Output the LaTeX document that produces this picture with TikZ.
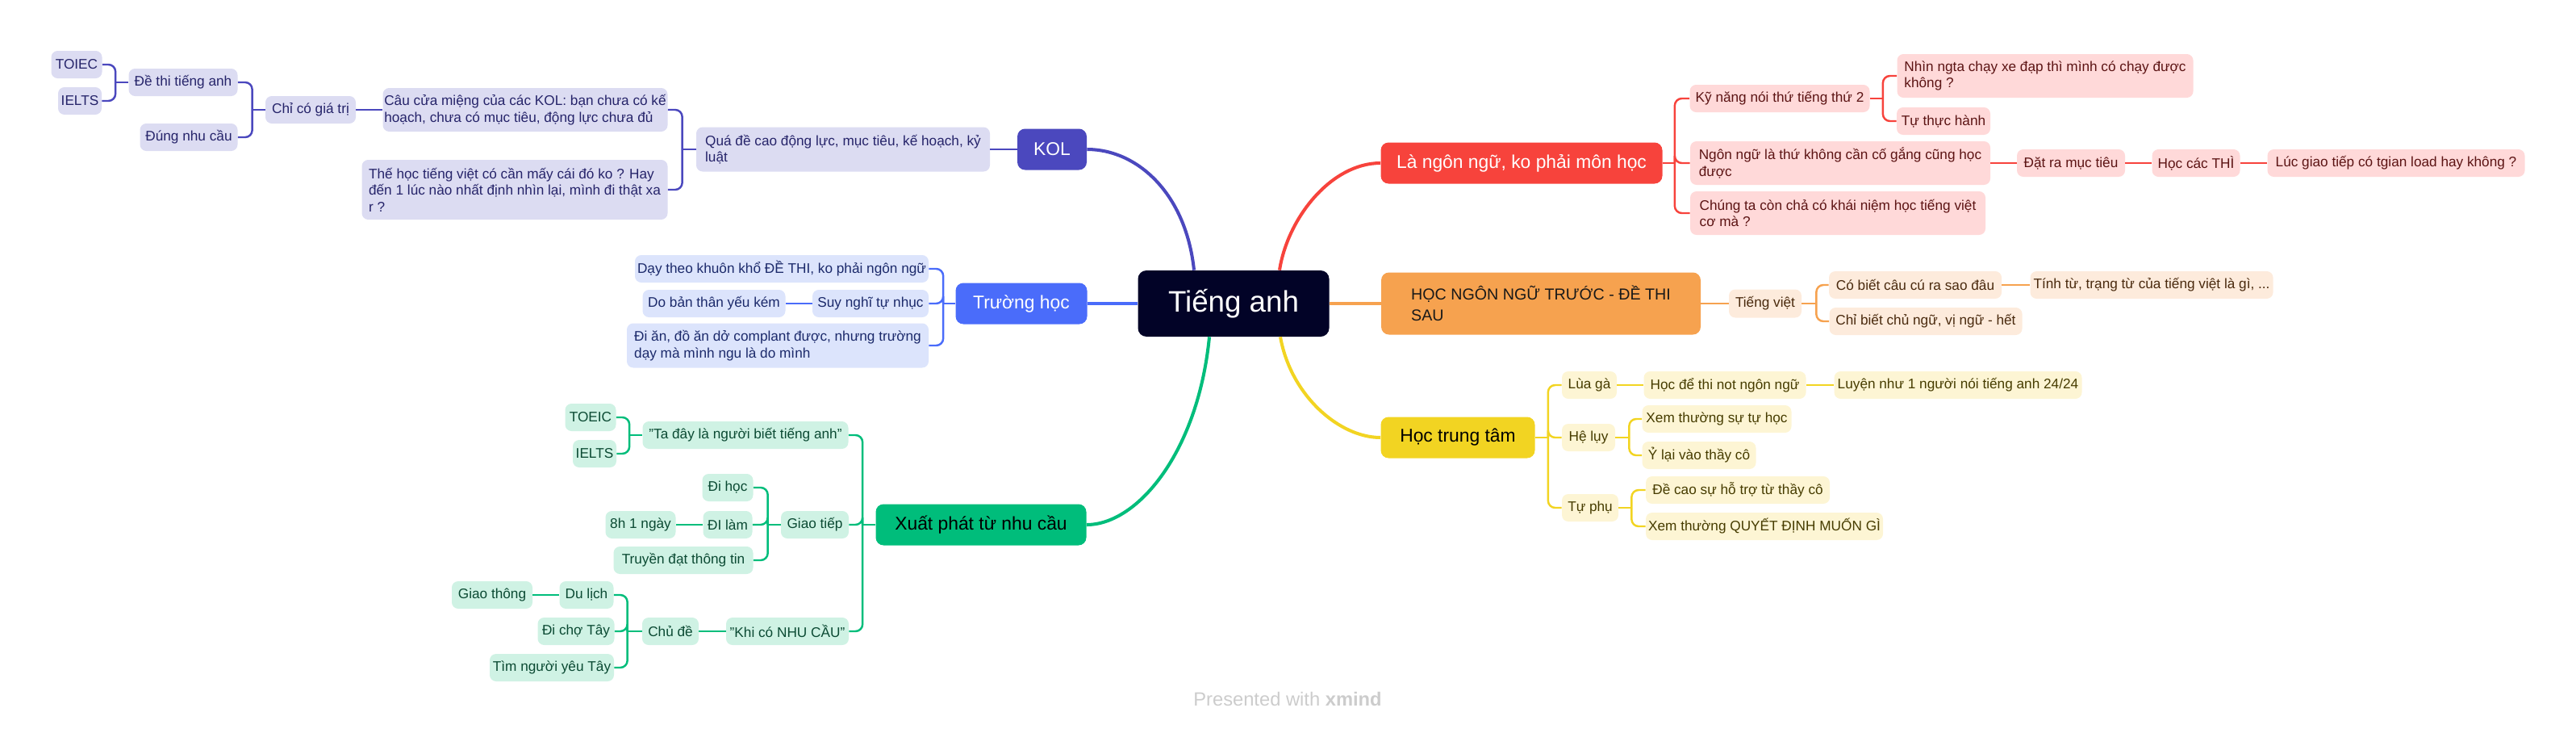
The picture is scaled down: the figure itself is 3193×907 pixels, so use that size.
\documentclass[tikz,border=0pt]{standalone}
\usepackage{fontspec}
\setmainfont{Liberation Sans}
\usepackage{tikz}
\usetikzlibrary{positioning}
\usepackage{xcolor}

\definecolor{rootc}{HTML}{020327}
\definecolor{kolc}{HTML}{4B48BE}
\definecolor{kolf}{HTML}{DCDCF2}
\definecolor{kolt}{HTML}{26246A}
\definecolor{schc}{HTML}{4A6CFA}
\definecolor{schf}{HTML}{DCE4FC}
\definecolor{scht}{HTML}{1C2A6B}
\definecolor{grnc}{HTML}{00BD7B}
\definecolor{grnf}{HTML}{CFF2E4}
\definecolor{grnt}{HTML}{0B4A33}
\definecolor{redc}{HTML}{F7433C}
\definecolor{redf}{HTML}{FFD9D9}
\definecolor{redt}{HTML}{5C1414}
\definecolor{orgc}{HTML}{F6A24F}
\definecolor{orgf}{HTML}{FDEBDC}
\definecolor{orgt}{HTML}{4A2A0E}
\definecolor{ylwc}{HTML}{F2D422}
\definecolor{ylwf}{HTML}{FDF5D4}
\definecolor{ylwt}{HTML}{463C00}
\definecolor{footc}{HTML}{CCCCCC}

\tikzset{
  nodesize/.style 2 args={minimum width=#1*0.02cm,minimum height=#2*0.02cm},
  leaf/.style={rounded corners=4.5pt,inner sep=0pt,align=left,
    font=\fontsize{9.8}{11.6}\selectfont},
  topic/.style={rounded corners=5.5pt,inner sep=0pt,align=left,
    font=\fontsize{13}{15.6}\selectfont},
  twig/.style={line width=1.4pt,rounded corners=5pt},
  bough/.style={line width=2.3pt},
  kolleaf/.style={leaf,fill=kolf,text=kolt},
  schleaf/.style={leaf,fill=schf,text=scht},
  grnleaf/.style={leaf,fill=grnf,text=grnt},
  redleaf/.style={leaf,fill=redf,text=redt},
  orgleaf/.style={leaf,fill=orgf,text=orgt},
  ylwleaf/.style={leaf,fill=ylwf,text=ylwt}
}

\begin{document}
\begin{tikzpicture}[x=0.02cm,y=-0.02cm]
\useasboundingbox (0,0) rectangle (3193,907);

\path (1529,376) node [fill=rootc,text=white,rounded corners=6pt,
  nodesize={237}{82},font=\fontsize{20.9}{25}\selectfont] (root) {Tiếng anh};

% KOL
\path
  (1304,185) node [topic,fill=kolc,text=white,nodesize={86}{51}] (kol) {KOL}
  (1045,185) node [kolleaf,nodesize={364}{55}] (qua)
    {Quá đề cao động lực, mục tiêu, kế hoạch, kỷ\\luật}
  (651,136) node [kolleaf,nodesize={353}{54}] (caucua)
    {Câu cửa miệng của các KOL: bạn chưa có kế\\hoạch, chưa có mục tiêu, động lực chưa đủ}
  (638,235) node [kolleaf,nodesize={379}{74}] (thehoc)
    {Thế học tiếng việt có cần mấy cái đó ko ? Hay\\đến 1 lúc nào nhất định nhìn lại, mình đi thật xa\\r ?}
  (385,136) node [kolleaf,nodesize={112}{34}] (chico) {Chỉ có giá trị}
  (227,102) node [kolleaf,nodesize={135}{34}] (dethi) {Đề thi tiếng anh}
  (234,170) node [kolleaf,nodesize={121}{34}] (dungnc) {Đúng nhu cầu}
  (95,80) node [kolleaf,nodesize={63}{34}] (toiecA) {TOIEC}
  (99,125) node [kolleaf,nodesize={54}{34}] (ieltsA) {IELTS};
\draw [bough,draw=kolc] (kol.east) .. controls (1410,185) and (1470,240)
  .. ([xshift=-0.98cm]root.north);
\draw [twig,draw=kolc] (kol.west) -- (qua.east);
\draw [twig,draw=kolc] (qua.west) -- ++(-17,0) coordinate (quaB);
\draw [twig,draw=kolc] (quaB) |- (caucua.east);
\draw [twig,draw=kolc] (quaB) |- (thehoc.east);
\draw [twig,draw=kolc] (caucua.west) -- (chico.east);
\draw [twig,draw=kolc] (chico.west) -- ++(-16,0) coordinate (chicoB);
\draw [twig,draw=kolc] (chicoB) |- (dethi.east);
\draw [twig,draw=kolc] (chicoB) |- (dungnc.east);
\draw [twig,draw=kolc] (dethi.west) -- ++(-16,0) coordinate (dethiB);
\draw [twig,draw=kolc] (dethiB) |- (toiecA.east);
\draw [twig,draw=kolc] (dethiB) |- (ieltsA.east);

% Truong hoc
\path
  (1266,376) node [topic,fill=schc,text=white,nodesize={163}{51}] (school) {Trường học}
  (969,333) node [schleaf,nodesize={364}{34}] (daytheo) {Dạy theo khuôn khổ ĐỀ THI, ko phải ngôn ngữ}
  (1079,376) node [schleaf,nodesize={144}{34}] (suynghi) {Suy nghĩ tự nhục}
  (885,376) node [schleaf,nodesize={177}{34}] (doban) {Do bản thân yếu kém}
  (964,428) node [schleaf,nodesize={374}{55}] (dian)
    {Đi ăn, đồ ăn dở complant được, nhưng trường\\dạy mà mình ngu là do mình};
\draw [bough,draw=schc] (root.west) -- (school.east);
\draw [twig,draw=schc] (school.west) -- ++(-15,0) coordinate (schoolB);
\draw [twig,draw=schc] (schoolB) |- (daytheo.east);
\draw [twig,draw=schc] (schoolB) |- (suynghi.east);
\draw [twig,draw=schc] (schoolB) |- (dian.east);
\draw [twig,draw=schc] (suynghi.west) -- (doban.east);

% Xuat phat tu nhu cau
\path
  (1216,650) node [topic,fill=grnc,text=black,nodesize={261}{51}] (need) {Xuất phát từ nhu cầu}
  (924,539) node [grnleaf,nodesize={255}{34}] (tuday) {"Ta đây là người biết tiếng anh"}
  (732,517) node [grnleaf,nodesize={63}{34}] (toeicB) {TOEIC}
  (737,562) node [grnleaf,nodesize={54}{34}] (ieltsB) {IELTS}
  (1010,650) node [grnleaf,nodesize={84}{34}] (giaotiep) {Giao tiếp}
  (902,604) node [grnleaf,nodesize={63}{34}] (dihoc) {Đi học}
  (902,650) node [grnleaf,nodesize={61}{34}] (dilam) {ĐI làm}
  (794,650) node [grnleaf,nodesize={87}{34}] (tamgio) {8h 1 ngày}
  (847,694) node [grnleaf,nodesize={173}{34}] (truyen) {Truyền đạt thông tin}
  (976,782) node [grnleaf,nodesize={152}{34}] (khico) {"Khi có NHU CẦU"}
  (831,782) node [grnleaf,nodesize={70}{34}] (chude) {Chủ đề}
  (727,737) node [grnleaf,nodesize={67}{34}] (dulich) {Du lịch}
  (610,737) node [grnleaf,nodesize={100}{34}] (giaothong) {Giao thông}
  (714,782) node [grnleaf,nodesize={95}{34}] (dicho) {Đi chợ Tây}
  (684,827) node [grnleaf,nodesize={154}{34}] (timnguoi) {Tìm người yêu Tây};
\draw [bough,draw=grnc] ([xshift=-0.6cm]root.south) .. controls (1485,560) and (1410,650)
  .. (need.east);
\draw [twig,draw=grnc] (need.west) -- ++(-16,0) coordinate (needB);
\draw [twig,draw=grnc] (needB) |- (tuday.east);
\draw [twig,draw=grnc] (needB) |- (giaotiep.east);
\draw [twig,draw=grnc] (needB) |- (khico.east);
\draw [twig,draw=grnc] (tuday.west) -- ++(-16,0) coordinate (tudayB);
\draw [twig,draw=grnc] (tudayB) |- (toeicB.east);
\draw [twig,draw=grnc] (tudayB) |- (ieltsB.east);
\draw [twig,draw=grnc] (giaotiep.west) -- ++(-16,0) coordinate (giaotiepB);
\draw [twig,draw=grnc] (giaotiepB) |- (dihoc.east);
\draw [twig,draw=grnc] (giaotiepB) |- (dilam.east);
\draw [twig,draw=grnc] (giaotiepB) |- (truyen.east);
\draw [twig,draw=grnc] (dilam.west) -- (tamgio.east);
\draw [twig,draw=grnc] (khico.west) -- (chude.east);
\draw [twig,draw=grnc] (chude.west) -- ++(-18,0) coordinate (chudeB);
\draw [twig,draw=grnc] (chudeB) |- (dulich.east);
\draw [twig,draw=grnc] (chudeB) |- (dicho.east);
\draw [twig,draw=grnc] (chudeB) |- (timnguoi.east);
\draw [twig,draw=grnc] (dulich.west) -- (giaothong.east);

% La ngon ngu
\path
  (1886,202) node [topic,fill=redc,text=white,nodesize={349}{51}] (lang) {Là ngôn ngữ, ko phải môn học}
  (2206,122) node [redleaf,nodesize={223}{34}] (kynang) {Kỹ năng nói thứ tiếng thứ 2}
  (2281,202) node [redleaf,nodesize={372}{54}] (ngonngu)
    {Ngôn ngữ là thứ không cần cố gắng cũng học\\được}
  (2278,264) node [redleaf,nodesize={366}{54}] (chungta)
    {Chúng ta còn chả có khái niệm học tiếng việt\\cơ mà ?}
  (2535,94) node [redleaf,nodesize={367}{54}] (nhin)
    {Nhìn ngta chạy xe đạp thì mình có chạy được\\không ?}
  (2409,150) node [redleaf,nodesize={116}{34}] (tuthuc) {Tự thực hành}
  (2567,202) node [redleaf,nodesize={134}{34}] (datra) {Đặt ra mục tiêu}
  (2722,202) node [redleaf,nodesize={109}{34}] (hoccac) {Học các THÌ}
  (2970,202) node [redleaf,nodesize={319}{34}] (lucgiao) {Lúc giao tiếp có tgian load hay không ?};
\draw [bough,draw=redc] ([xshift=1.14cm]root.north) .. controls (1596,270) and (1650,202)
  .. (lang.west);
\draw [twig,draw=redc] (lang.east) -- ++(15,0) coordinate (langB);
\draw [twig,draw=redc] (langB) |- (kynang.west);
\draw [twig,draw=redc] (langB) |- (ngonngu.west);
\draw [twig,draw=redc] (langB) |- (chungta.west);
\draw [twig,draw=redc] (kynang.east) -- ++(16,0) coordinate (kynangB);
\draw [twig,draw=redc] (kynangB) |- (nhin.west);
\draw [twig,draw=redc] (kynangB) |- (tuthuc.west);
\draw [twig,draw=redc] (ngonngu.east) -- (datra.west);
\draw [twig,draw=redc] (datra.east) -- (hoccac.west);
\draw [twig,draw=redc] (hoccac.east) -- (lucgiao.west);

% Hoc ngon ngu truoc
\path
  (1910,376) node [topic,fill=orgc,text=black!90,nodesize={396}{77},
    font=\fontsize{11.2}{15}\selectfont] (truoc) {HỌC NGÔN NGỮ TRƯỚC - ĐỀ THI\\SAU}
  (2188,376) node [orgleaf,nodesize={90}{35}] (tviet) {Tiếng việt}
  (2374,353) node [orgleaf,nodesize={214}{34}] (cobiet) {Có biết câu cú ra sao đâu}
  (2387,398) node [orgleaf,nodesize={239}{34}] (chibiet) {Chỉ biết chủ ngữ, vị ngữ - hết}
  (2667,353) node [orgleaf,nodesize={301}{34}] (tinhtu) {Tính từ, trạng từ của tiếng việt là gì, ...};
\draw [bough,draw=orgc] (root.east) -- (truoc.west);
\draw [twig,draw=orgc] (truoc.east) -- (tviet.west);
\draw [twig,draw=orgc] (tviet.east) -- ++(18,0) coordinate (tvietB);
\draw [twig,draw=orgc] (tvietB) |- (cobiet.west);
\draw [twig,draw=orgc] (tvietB) |- (chibiet.west);
\draw [twig,draw=orgc] (cobiet.east) -- (tinhtu.west);

% Hoc trung tam
\path
  (1807,542) node [topic,fill=ylwc,text=black,nodesize={191}{51}] (center) {Học trung tâm}
  (1970,477) node [ylwleaf,nodesize={68}{34}] (luaga) {Lùa gà}
  (2138,477) node [ylwleaf,nodesize={201}{34}] (hocde) {Học để thi not ngôn ngữ}
  (2427,477) node [ylwleaf,nodesize={307}{34}] (luyen) {Luyện như 1 người nói tiếng anh 24/24}
  (1969,542) node [ylwleaf,nodesize={66}{34}] (heluy) {Hệ lụy}
  (2128,519) node [ylwleaf,nodesize={185}{34}] (xemtu) {Xem thường sự tự học}
  (2106,564) node [ylwleaf,nodesize={141}{34}] (ylai) {Ỷ lại vào thầy cô}
  (1971,629) node [ylwleaf,nodesize={70}{34}] (tuphu) {Tự phụ}
  (2154,607) node [ylwleaf,nodesize={228}{34}] (decao) {Đề cao sự hỗ trợ từ thầy cô}
  (2187,652) node [ylwleaf,nodesize={294}{34}] (xemqd) {Xem thường QUYẾT ĐỊNH MUỐN GÌ};
\draw [bough,draw=ylwc] ([xshift=1.16cm]root.south) .. controls (1600,490) and (1660,542)
  .. (center.west);
\draw [twig,draw=ylwc] (center.east) -- ++(16,0) coordinate (centerB);
\draw [twig,draw=ylwc] (centerB) |- (luaga.west);
\draw [twig,draw=ylwc] (centerB) |- (heluy.west);
\draw [twig,draw=ylwc] (centerB) |- (tuphu.west);
\draw [twig,draw=ylwc] (luaga.east) -- (hocde.west);
\draw [twig,draw=ylwc] (hocde.east) -- (luyen.west);
\draw [twig,draw=ylwc] (heluy.east) -- ++(17,0) coordinate (heluyB);
\draw [twig,draw=ylwc] (heluyB) |- (xemtu.west);
\draw [twig,draw=ylwc] (heluyB) |- (ylai.west);
\draw [twig,draw=ylwc] (tuphu.east) -- ++(16,0) coordinate (tuphuB);
\draw [twig,draw=ylwc] (tuphuB) |- (decao.west);
\draw [twig,draw=ylwc] (tuphuB) |- (xemqd.west);

\path (1596,866) node [text=footc,font=\fontsize{13.5}{16}\selectfont] (footer)
  {Presented with \textbf{xmind}};
\end{tikzpicture}
\end{document}
